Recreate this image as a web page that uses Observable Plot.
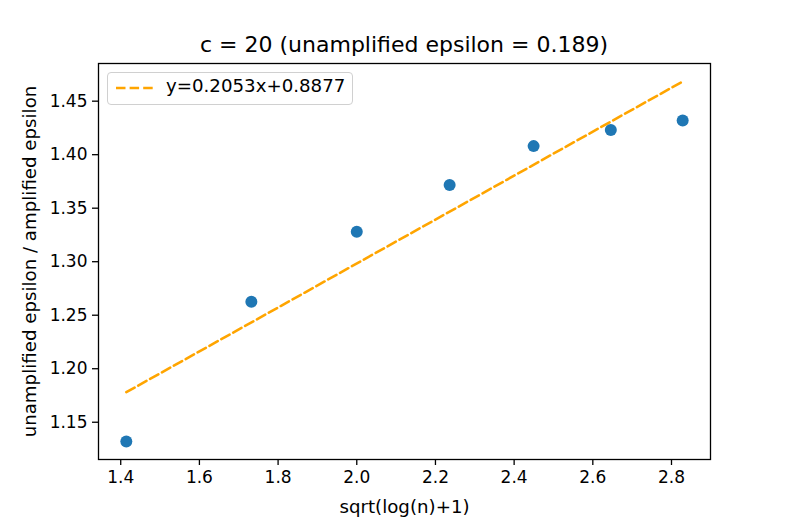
<!DOCTYPE html>
<html>
<head>
<meta charset="utf-8">
<script src="https://cdn.jsdelivr.net/npm/d3@7"></script>
<script src="https://cdn.jsdelivr.net/npm/@observablehq/plot@0.6"></script>
<style>
  html, body { margin: 0; padding: 0; background: #fff; }
  #wrap { position: relative; width: 789px; height: 526px; font-family: "DejaVu Sans", sans-serif; }
  #title { position: absolute; left: 98px; width: 612px; top: 33px; text-align: center; font-size: 22px; line-height: 24px; color: #000; white-space: nowrap; }
  #legend { position: absolute; left: 107px; top: 72px; width: 244px; height: 31px; border: 1px solid #d0d0d0; border-radius: 4px; background: rgba(255,255,255,0.8); box-sizing: content-box; }
  #legend svg { position: absolute; left: 7px; top: 8px; }
  #legend span { position: absolute; left: 58px; top: 3px; font-size: 18.2px; line-height: 20px; white-space: nowrap; color: #000; }
</style>
</head>
<body>
<div id="wrap">
  <div id="chart"></div>
  <div id="title"></div>
  <div id="legend"><svg width="40" height="14"><line x1="1" y1="7" x2="38" y2="7" stroke="#FFA500" stroke-width="2.57" stroke-dasharray="9.5,4.1"/></svg><span id="legtext"></span></div>
</div>
<script>
// x = sqrt(log(n)+1)
const xValues = [Math.SQRT2, Math.sqrt(3), 2, Math.sqrt(5), Math.sqrt(6), Math.sqrt(7), Math.sqrt(8)];
const ratioValues = [1.132, 1.2625, 1.328, 1.3716, 1.408, 1.423, 1.432];
// fitted line endpoints (y=0.2053x+0.8877)
const fitX = [1.41421, 2.82843];
const fitY = [1.17804, 1.46838];
const xTicks = [1.4, 1.6, 1.8, 2.0, 2.2, 2.4, 2.6, 2.8];
const yTicks = [1.15, 1.20, 1.25, 1.30, 1.35, 1.40, 1.45];
const titleText = "c = 20 (unamplified epsilon = 0.189)";
const legendText = "y=0.2053x+0.8877";
const xLabel = "sqrt(log(n)+1)";
const yLabel = "unamplified epsilon / amplified epsilon";

const points = xValues.map((x, i) => ({x, y: ratioValues[i]}));
const fit = fitX.map((x, i) => ({x, y: fitY[i]}));

function padded(vals) {
  const [a, b] = d3.extent(vals);
  const m = (b - a) * 0.05;
  return [a - m, b + m];
}
const xDomain = padded(xValues.concat(fitX));
const yDomain = padded(ratioValues.concat(fitY));

const plot = Plot.plot({
  width: 789,
  height: 526,
  marginLeft: 98,
  marginRight: 79,
  marginTop: 63,
  marginBottom: 67,
  style: {fontFamily: "DejaVu Sans, sans-serif", fontSize: "17px", color: "#000", background: "#fff", overflow: "visible"},
  x: {domain: xDomain},
  y: {domain: yDomain},
  marks: [
    Plot.line(fit, {x: "x", y: "y", stroke: "#FFA500", strokeWidth: 2.57, strokeDasharray: "9.5,4.1"}),
    Plot.dot(points, {x: "x", y: "y", r: 6, fill: "#1f77b4", stroke: "none"}),
    Plot.frame({stroke: "#000", strokeWidth: 1.3}),
    Plot.axisX({ticks: xTicks, tickFormat: d3.format(".1f"), tickSize: 6, tickPadding: 5, strokeWidth: 1.3, label: null}),
    Plot.axisX({ticks: [], label: xLabel, labelAnchor: "center", labelArrow: "none", labelOffset: 53, fontSize: 18.2}),
    Plot.axisY({ticks: yTicks, tickFormat: d3.format(".2f"), tickSize: 6, tickPadding: 5, strokeWidth: 1.3, label: null}),
    Plot.axisY({ticks: [], label: yLabel, labelAnchor: "center", labelArrow: "none", labelOffset: 75, fontSize: 18.2})
  ]
});
document.getElementById("chart").appendChild(plot);
document.getElementById("title").textContent = titleText;
document.getElementById("legtext").textContent = legendText;
</script>
</body>
</html>
